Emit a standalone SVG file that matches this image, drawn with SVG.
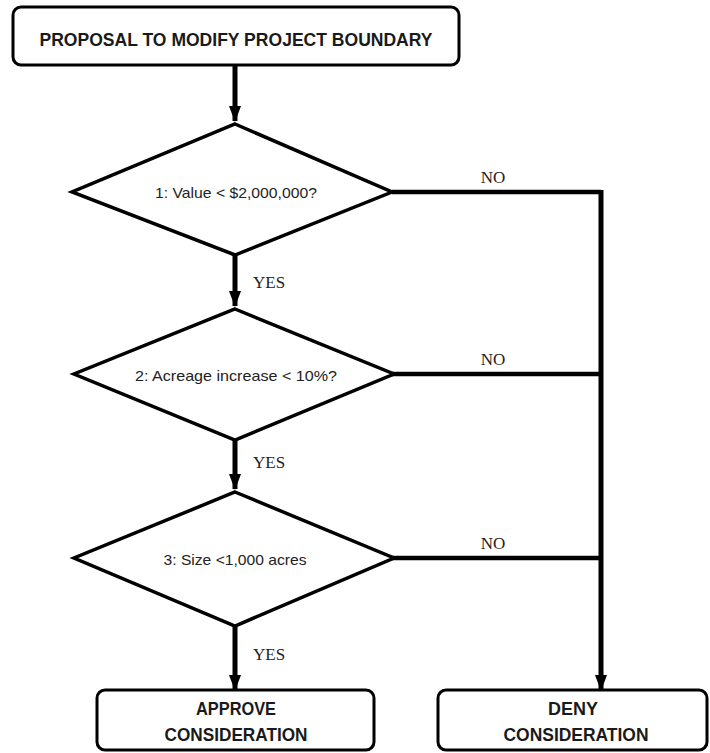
<svg xmlns="http://www.w3.org/2000/svg" width="710" height="753" viewBox="0 0 710 753">
<style>
.box{fill:#fff;stroke:#000;stroke-width:3}
.dia{fill:#fff;stroke:#000;stroke-width:3.5;stroke-linejoin:miter}
.bt{font-family:"Liberation Sans Narrow","Liberation Sans",Arial,sans-serif;font-weight:bold;fill:#1a1a1a;text-anchor:middle}
.dt{font-family:"Liberation Sans Narrow","Liberation Sans",Arial,sans-serif;font-size:15px;fill:#222;text-anchor:middle}
.lb{font-family:"Liberation Serif","Times New Roman",serif;font-size:17px;fill:#222}
.ln{fill:none;stroke:#000;stroke-width:4.5}
.ar{fill:none;stroke:#000;stroke-width:5}
</style>
<defs>
<marker id="ad" markerUnits="userSpaceOnUse" markerWidth="16" markerHeight="12" refX="15" refY="6" orient="auto" viewBox="0 0 16 12">
<path d="M0,0 L16,6 L0,12 Z" fill="#000"/>
</marker>
</defs>
<rect width="710" height="753" fill="#fff"/>
<g id="connectors">
<line class="ar" x1="235" y1="65" x2="235" y2="121" marker-end="url(#ad)"/>
<line class="ar" x1="235" y1="255" x2="235" y2="306" marker-end="url(#ad)"/>
<line class="ar" x1="235" y1="440" x2="235" y2="489" marker-end="url(#ad)"/>
<line class="ar" x1="235" y1="626" x2="235" y2="690" marker-end="url(#ad)"/>
<line class="ln" x1="392" y1="192" x2="601" y2="192"/>
<line class="ln" x1="392" y1="374" x2="601" y2="374"/>
<line class="ln" x1="392" y1="558" x2="601" y2="558"/>
<line class="ar" x1="601" y1="190" x2="601" y2="690" marker-end="url(#ad)"/>
<text class="lb" x="493" y="183" text-anchor="middle">NO</text>
<text class="lb" x="493" y="365" text-anchor="middle">NO</text>
<text class="lb" x="493" y="549" text-anchor="middle">NO</text>
<text class="lb" x="253" y="288">YES</text>
<text class="lb" x="253" y="468">YES</text>
<text class="lb" x="253" y="660">YES</text>
</g>
<g id="start">
<rect class="box" x="13" y="7" width="446" height="58" rx="8"/>
<text class="bt" x="236" y="46" font-size="19" textLength="393" lengthAdjust="spacingAndGlyphs">PROPOSAL TO MODIFY PROJECT BOUNDARY</text>
</g>
<g id="d1">
<polygon class="dia" points="235,124 392,192 235,255 72,192"/>
<text class="dt" x="236" y="198" textLength="162" lengthAdjust="spacingAndGlyphs">1: Value &lt; $2,000,000?</text>
</g>
<g id="d2">
<polygon class="dia" points="235,309 394,374 235,440 74,374"/>
<text class="dt" x="236" y="381" textLength="202" lengthAdjust="spacingAndGlyphs">2: Acreage increase &lt; 10%?</text>
</g>
<g id="d3">
<polygon class="dia" points="235,492 394,558 235,626 74,558"/>
<text class="dt" x="235" y="565" textLength="143" lengthAdjust="spacingAndGlyphs">3: Size &lt;1,000 acres</text>
</g>
<g id="approve">
<rect class="box" x="97" y="690" width="277" height="60" rx="8"/>
<text class="bt" x="236" y="715" font-size="18" textLength="80" lengthAdjust="spacingAndGlyphs">APPROVE</text>
<text class="bt" x="236" y="741" font-size="18" textLength="143" lengthAdjust="spacingAndGlyphs">CONSIDERATION</text>
</g>
<g id="deny">
<rect class="box" x="438" y="690" width="269" height="60" rx="8"/>
<text class="bt" x="573" y="715" font-size="18" textLength="50" lengthAdjust="spacingAndGlyphs">DENY</text>
<text class="bt" x="576" y="741" font-size="18" textLength="145" lengthAdjust="spacingAndGlyphs">CONSIDERATION</text>
</g>
</svg>
